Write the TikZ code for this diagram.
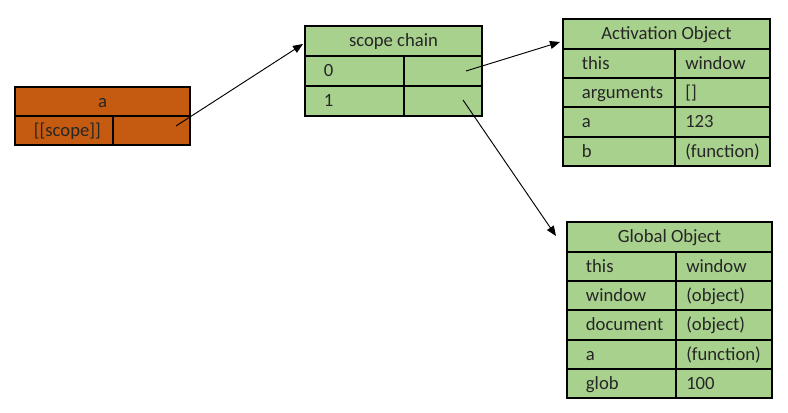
\documentclass[tikz,border=0pt]{standalone}
\usepackage{fontspec}
\setmainfont{Carlito}
\usetikzlibrary{arrows.meta}
\definecolor{orng}{HTML}{C55A11}
\definecolor{grn}{HTML}{A9D18E}
\definecolor{txt}{HTML}{262626}
\tikzset{
  cellst/.style={draw=black, line width=0.8pt, inner sep=0pt, outer sep=0pt, rectangle},
  lab/.style={font=\fontsize{14}{16}\selectfont, text=txt, inner sep=0pt, text height=1.55ex, text depth=0.45ex, yshift=-1.8pt},
  conn/.style={line width=0.7pt, -{Triangle[length=7.5pt,width=6pt]}}
}
% \cellbox{name}{x1}{y1}{x2}{y2}{fill}
\newcommand{\cellbox}[6]{\node[cellst, fill=#6, minimum width={(#4-#2)*0.75pt}, minimum height={(#5-#3)*0.75pt}] (#1) at ({(#2+#4)/2},{(#3+#5)/2}) {};}
\newcommand{\lt}[2]{\node[lab, anchor=west] (#1-t) at ([xshift=14pt]#1.west) {#2};}
\newcommand{\rt}[2]{\node[lab, anchor=west] (#1-t) at ([xshift=7.5pt]#1.west) {#2};}
\newcommand{\ct}[2]{\node[lab] (#1-t) at (#1.center) {#2};}
\begin{document}
\begin{tikzpicture}[x=0.75pt,y=-0.75pt]
\useasboundingbox (0,0) rectangle (788,413);
% box a
\cellbox{ah}{15}{87}{190}{116}{orng}
\cellbox{al}{15}{116}{113}{145}{orng}
\cellbox{ar}{113}{116}{190}{145}{orng}
\ct{ah}{a}
\lt{al}{[[scope]]}
% scope chain
\cellbox{sh}{305}{26}{482}{56}{grn}
\cellbox{s0l}{305}{56}{404}{86}{grn}
\cellbox{s0r}{404}{56}{482}{86}{grn}
\cellbox{s1l}{305}{86}{404}{116}{grn}
\cellbox{s1r}{404}{86}{482}{116}{grn}
\ct{sh}{scope chain}
\lt{s0l}{0}
\lt{s1l}{1}
% activation object
\cellbox{oh}{563}{19}{770}{49}{grn}
\cellbox{o1l}{563}{49}{675}{78}{grn}
\cellbox{o1r}{675}{49}{770}{78}{grn}
\cellbox{o2l}{563}{78}{675}{107}{grn}
\cellbox{o2r}{675}{78}{770}{107}{grn}
\cellbox{o3l}{563}{107}{675}{137}{grn}
\cellbox{o3r}{675}{107}{770}{137}{grn}
\cellbox{o4l}{563}{137}{675}{166}{grn}
\cellbox{o4r}{675}{137}{770}{166}{grn}
\ct{oh}{Activation Object}
\lt{o1l}{this}\rt{o1r}{window}
\lt{o2l}{arguments}\rt{o2r}{[]}
\lt{o3l}{a}\rt{o3r}{123}
\lt{o4l}{b}\rt{o4r}{(function)}
% global object
\cellbox{gh}{567}{222}{772}{252}{grn}
\cellbox{g1l}{567}{252}{676}{281}{grn}
\cellbox{g1r}{676}{252}{772}{281}{grn}
\cellbox{g2l}{567}{281}{676}{310}{grn}
\cellbox{g2r}{676}{281}{772}{310}{grn}
\cellbox{g3l}{567}{310}{676}{340}{grn}
\cellbox{g3r}{676}{310}{772}{340}{grn}
\cellbox{g4l}{567}{340}{676}{369}{grn}
\cellbox{g4r}{676}{340}{772}{369}{grn}
\cellbox{g5l}{567}{369}{676}{398}{grn}
\cellbox{g5r}{676}{369}{772}{398}{grn}
\ct{gh}{Global Object}
\lt{g1l}{this}\rt{g1r}{window}
\lt{g2l}{window}\rt{g2r}{(object)}
\lt{g3l}{document}\rt{g3r}{(object)}
\lt{g4l}{a}\rt{g4r}{(function)}
\lt{g5l}{glob}\rt{g5r}{100}
% connectors
\coordinate (p1) at (176,126);
\coordinate (p2) at (466,71);
\coordinate (p3) at (463,100);
\coordinate (e1) at (303,44);
\coordinate (e2) at (560,42);
\coordinate (e3) at (556,236);
\draw[conn] (p1) -- (e1);
\draw[conn] (p2) -- (e2);
\draw[conn] (p3) -- (e3);
\end{tikzpicture}
\end{document}
